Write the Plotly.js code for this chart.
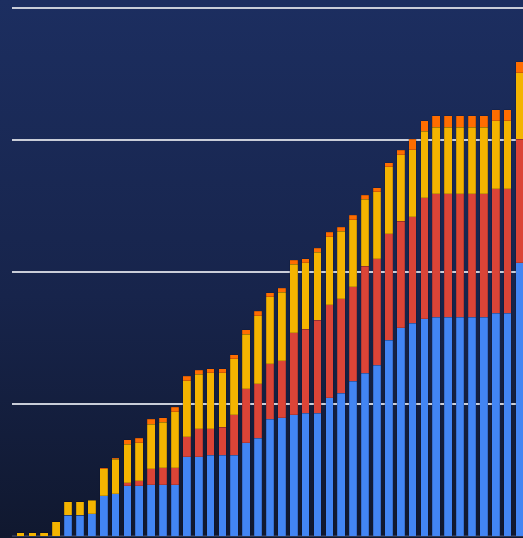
<!DOCTYPE html>
<html>
<head>
<meta charset="utf-8">
<script src="https://cdn.plot.ly/plotly-3.0.1.min.js"></script>
<style>
  html, body { margin: 0; padding: 0; }
  body { width: 523px; height: 538px; overflow: hidden;
         background: linear-gradient(to bottom, #1c2e60 0%, #17244b 55%, #10182f 100%); }
  #chart { width: 523px; height: 538px; }
</style>
</head>
<body>
<div id="chart"></div>
<script>
const categories = Array.from({length: 43}, (_, i) => i);
const blue   = [0,0,0,0,15.7,15.7,16.9,30.5,32,37.9,37.9,38.9,38.9,39,60.1,60.1,61.2,61.2,61.2,70.7,74.2,88.4,89.5,91.8,93,93,104.8,108.2,117.4,123.3,129.3,148.3,157.6,161.1,164.4,165.7,165.7,165.7,165.7,165.7,168.9,168.9,206.8];
const red    = [0,0,0,0,0,0,0,0,0,2.3,3.8,11.9,12.8,12.7,15.1,21,19.9,21.1,30.6,40.9,41.2,42.1,43.3,62.2,63.6,70.6,70.2,71.6,71.5,81.2,80.8,80.7,80.8,80.8,91.7,93.6,93.6,93.6,93.6,93.6,94,94,93.7];
const yellow = [2.5,2.5,2.5,10.8,10.3,10.3,10.1,20.3,26.1,29.3,29,34,34.4,42.5,42.5,41.4,42.4,41.2,42.3,41.4,51.5,50.7,51.8,51.8,50.2,51.4,51.7,50.9,50.7,50.6,50.7,50.8,50.5,50.5,50.3,50.5,50.5,50.5,50.5,50.5,51.7,51.7,50.5];
const orange = [0,0,0,0,0,0,0,0.8,0.8,3.5,3.5,3.6,3.3,3.3,3.3,3.1,3.2,3.2,3.2,3.1,3.3,3.1,3.1,3.1,3.2,3.0,3.4,3.0,3.3,3.0,3.1,3.0,3.3,8.0,8.0,8.4,8.4,8.4,8.4,8.4,8.1,8.1,8.1];

const seriesDefs = [
  {name: 'blue',   y: blue,   color: '#4285f4'},
  {name: 'red',    y: red,    color: '#db4437'},
  {name: 'yellow', y: yellow, color: '#f4b400'},
  {name: 'orange', y: orange, color: '#ff6d00'}
];

const data = seriesDefs.map(s => ({
  type: 'bar',
  x: categories,
  y: s.y,
  name: s.name,
  marker: {color: s.color, line: {width: 0.5, color: 'rgba(10,14,30,0.35)'}},
  hoverinfo: 'none'
}));

const layout = {
  width: 523, height: 538,
  margin: {l: 12, r: 0, t: 0, b: 2, pad: 0},
  barmode: 'stack',
  bargap: 0.35,
  showlegend: false,
  paper_bgcolor: 'rgba(0,0,0,0)',
  plot_bgcolor: 'rgba(0,0,0,0)',
  xaxis: {range: [-0.716, 42.3], showgrid: false, zeroline: false, showticklabels: false, ticks: '', showline: false, fixedrange: true},
  yaxis: {range: [0, 406], dtick: 100, showgrid: true, gridcolor: '#c9cdd8', gridwidth: 1.5,
          zeroline: true, zerolinecolor: '#2e3550', zerolinewidth: 1.5,
          showticklabels: false, ticks: '', showline: false, fixedrange: true}
};

Plotly.newPlot('chart', data, layout, {displayModeBar: false, staticPlot: true});
</script>
</body>
</html>
